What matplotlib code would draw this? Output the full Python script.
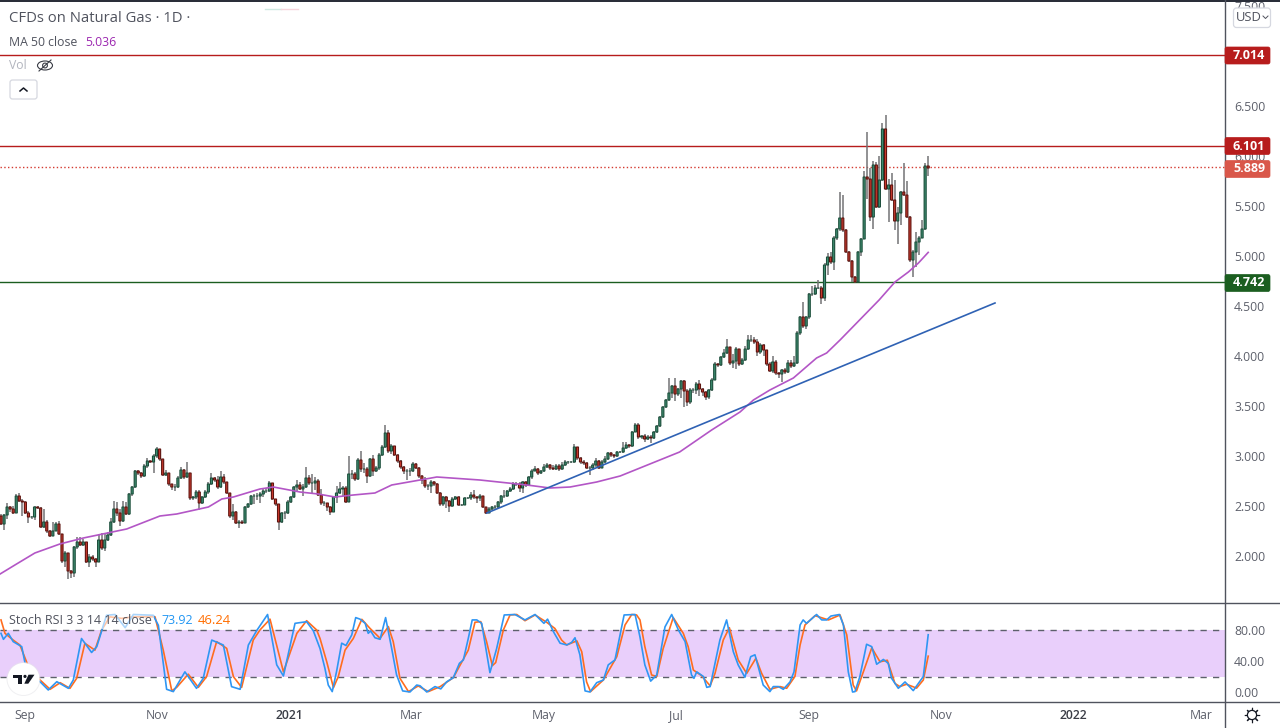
#!/usr/bin/env python3

import numpy as np
import matplotlib
matplotlib.use('Agg')
import matplotlib.pyplot as plt
from matplotlib.patches import Circle, Ellipse, FancyBboxPatch, Polygon, Rectangle

plt.rcParams['font.family'] = ['Open Sans', 'DejaVu Sans']

closes = [
    2.32, 2.41, 2.49, 2.47, 2.43, 2.60, 2.55, 2.54, 2.43, 2.39,
    2.39, 2.49, 2.48, 2.29, 2.34, 2.25, 2.20, 2.25, 2.32, 2.22,
    1.95, 2.03, 1.85, 1.83, 2.09, 2.14, 2.11, 2.14, 1.94, 1.99,
    1.97, 1.94, 2.16, 2.08, 2.16, 2.21, 2.34, 2.47, 2.43, 2.35,
    2.49, 2.42, 2.62, 2.69, 2.85, 2.83, 2.80, 2.90, 2.95, 2.94,
    3.00, 3.07, 2.97, 2.81, 2.83, 2.72, 2.69, 2.69, 2.78, 2.86,
    2.79, 2.83, 2.58, 2.59, 2.64, 2.53, 2.59, 2.64, 2.72, 2.78,
    2.76, 2.69, 2.79, 2.74, 2.63, 2.40, 2.44, 2.33, 2.34, 2.33,
    2.49, 2.52, 2.60, 2.60, 2.60, 2.62, 2.65, 2.65, 2.73, 2.57,
    2.52, 2.34, 2.43, 2.43, 2.54, 2.59, 2.69, 2.71, 2.67, 2.69,
    2.78, 2.73, 2.73, 2.75, 2.61, 2.53, 2.53, 2.49, 2.44, 2.59,
    2.63, 2.67, 2.68, 2.54, 2.82, 2.82, 2.77, 2.96, 2.87, 2.87,
    2.80, 2.97, 2.85, 2.88, 3.01, 3.09, 3.23, 3.05, 3.10, 3.01,
    2.95, 2.89, 2.85, 2.85, 2.85, 2.92, 2.88, 2.80, 2.76, 2.70,
    2.70, 2.74, 2.72, 2.63, 2.52, 2.59, 2.55, 2.50, 2.57, 2.59,
    2.51, 2.51, 2.58, 2.58, 2.61, 2.59, 2.58, 2.60, 2.49, 2.43,
    2.47, 2.49, 2.49, 2.54, 2.60, 2.60, 2.65, 2.67, 2.72, 2.72,
    2.68, 2.74, 2.71, 2.79, 2.85, 2.87, 2.83, 2.85, 2.89, 2.91,
    2.88, 2.87, 2.90, 2.87, 2.91, 2.94, 2.94, 2.94, 3.09, 2.98,
    2.94, 2.93, 2.88, 2.88, 2.91, 2.95, 2.88, 2.94, 2.97, 3.03,
    3.01, 3.00, 3.04, 3.04, 3.08, 3.11, 3.10, 3.24, 3.31, 3.19,
    3.20, 3.17, 3.19, 3.18, 3.24, 3.30, 3.39, 3.49, 3.56, 3.63,
    3.70, 3.62, 3.67, 3.75, 3.65, 3.54, 3.66, 3.66, 3.72, 3.67,
    3.64, 3.59, 3.66, 3.76, 3.92, 3.91, 3.99, 4.03, 4.09, 3.93,
    3.95, 4.07, 3.92, 3.96, 4.07, 4.16, 4.16, 4.14, 4.04, 4.11,
    4.06, 3.92, 3.85, 3.94, 3.83, 3.82, 3.86, 3.84, 3.93, 3.90,
    3.93, 4.23, 4.39, 4.30, 4.39, 4.62, 4.62, 4.68, 4.68, 4.58,
    4.91, 4.99, 4.94, 5.18, 5.27, 5.38, 5.26, 5.04, 4.95, 4.79,
    4.74, 5.04, 5.17, 5.79, 5.77, 5.39, 5.91, 5.49, 5.76, 6.27,
    5.67, 5.71, 5.56, 5.35, 5.43, 5.64, 5.61, 5.39, 4.96, 5.04,
    5.14, 5.18, 5.27, 5.90, 5.88,
]
highs = [
    2.42, 2.42, 2.53, 2.50, 2.50, 2.62, 2.63, 2.57, 2.55, 2.45,
    2.40, 2.50, 2.50, 2.49, 2.47, 2.36, 2.26, 2.34, 2.34, 2.35,
    2.22, 2.05, 2.03, 1.86, 2.10, 2.19, 2.19, 2.17, 2.14, 2.02,
    2.01, 1.98, 2.22, 2.23, 2.23, 2.24, 2.38, 2.55, 2.54, 2.47,
    2.55, 2.54, 2.63, 2.70, 2.86, 2.86, 2.84, 2.92, 2.98, 2.96,
    3.02, 3.09, 3.07, 2.97, 2.86, 2.83, 2.72, 2.72, 2.80, 2.89,
    2.87, 2.94, 2.83, 2.60, 2.66, 2.66, 2.60, 2.66, 2.74, 2.83,
    2.79, 2.80, 2.85, 2.82, 2.74, 2.63, 2.52, 2.45, 2.36, 2.36,
    2.50, 2.53, 2.61, 2.62, 2.63, 2.64, 2.67, 2.68, 2.75, 2.73,
    2.57, 2.52, 2.44, 2.45, 2.56, 2.60, 2.70, 2.76, 2.74, 2.72,
    2.89, 2.81, 2.82, 2.79, 2.77, 2.67, 2.55, 2.53, 2.50, 2.60,
    2.70, 2.74, 2.70, 2.70, 3.00, 2.86, 2.84, 2.98, 3.05, 2.93,
    2.89, 2.98, 3.01, 2.90, 3.03, 3.11, 3.31, 3.26, 3.12, 3.10,
    3.02, 2.96, 2.90, 2.87, 2.88, 2.94, 2.93, 2.89, 2.81, 2.79,
    2.72, 2.76, 2.75, 2.73, 2.64, 2.60, 2.60, 2.56, 2.59, 2.60,
    2.60, 2.52, 2.59, 2.59, 2.64, 2.66, 2.60, 2.62, 2.60, 2.49,
    2.49, 2.50, 2.51, 2.55, 2.61, 2.66, 2.66, 2.69, 2.74, 2.74,
    2.74, 2.75, 2.75, 2.80, 2.87, 2.90, 2.88, 2.86, 2.92, 2.93,
    2.92, 2.91, 2.92, 2.92, 2.94, 2.96, 2.95, 2.95, 3.12, 3.09,
    2.99, 2.96, 2.94, 2.90, 2.93, 2.98, 2.96, 2.96, 3.00, 3.04,
    3.04, 3.02, 3.05, 3.05, 3.14, 3.14, 3.12, 3.25, 3.33, 3.33,
    3.21, 3.22, 3.21, 3.21, 3.25, 3.31, 3.40, 3.50, 3.57, 3.78,
    3.71, 3.78, 3.68, 3.76, 3.76, 3.67, 3.68, 3.68, 3.74, 3.76,
    3.68, 3.65, 3.67, 3.78, 3.94, 3.93, 4.00, 4.07, 4.17, 4.09,
    4.02, 4.09, 4.07, 3.98, 4.10, 4.21, 4.21, 4.19, 4.17, 4.13,
    4.12, 4.06, 3.94, 4.00, 3.96, 3.84, 3.87, 3.88, 3.96, 3.96,
    4.00, 4.25, 4.40, 4.54, 4.40, 4.63, 4.70, 4.71, 4.76, 4.70,
    4.93, 5.03, 5.04, 5.20, 5.28, 5.64, 5.61, 5.27, 5.05, 4.96,
    4.80, 5.05, 5.18, 5.85, 6.24, 5.88, 5.95, 5.94, 6.00, 6.33,
    6.41, 5.77, 5.83, 5.76, 5.49, 5.65, 5.93, 5.75, 5.40, 5.06,
    5.24, 5.20, 5.36, 5.93, 6.00,
]
lows = [
    2.31, 2.26, 2.37, 2.44, 2.42, 2.43, 2.54, 2.40, 2.42, 2.33,
    2.37, 2.36, 2.47, 2.28, 2.28, 2.23, 2.19, 2.20, 2.25, 2.21,
    1.93, 1.89, 1.77, 1.78, 1.79, 2.07, 2.10, 2.10, 1.93, 1.89,
    1.95, 1.89, 1.94, 2.06, 2.05, 2.15, 2.20, 2.33, 2.40, 2.30,
    2.34, 2.41, 2.41, 2.60, 2.68, 2.81, 2.78, 2.79, 2.88, 2.93,
    2.83, 2.98, 2.95, 2.80, 2.80, 2.70, 2.66, 2.65, 2.68, 2.77,
    2.77, 2.78, 2.56, 2.56, 2.57, 2.46, 2.52, 2.58, 2.62, 2.71,
    2.74, 2.67, 2.68, 2.72, 2.62, 2.38, 2.36, 2.32, 2.28, 2.32,
    2.33, 2.48, 2.51, 2.52, 2.56, 2.53, 2.59, 2.63, 2.64, 2.56,
    2.50, 2.26, 2.33, 2.37, 2.42, 2.53, 2.58, 2.65, 2.66, 2.60,
    2.68, 2.71, 2.62, 2.66, 2.60, 2.51, 2.50, 2.45, 2.41, 2.44,
    2.53, 2.62, 2.60, 2.53, 2.54, 2.77, 2.75, 2.76, 2.84, 2.83,
    2.73, 2.79, 2.80, 2.84, 2.86, 3.00, 3.08, 3.03, 3.02, 3.00,
    2.93, 2.87, 2.82, 2.76, 2.80, 2.84, 2.87, 2.78, 2.72, 2.68,
    2.66, 2.63, 2.70, 2.62, 2.50, 2.50, 2.48, 2.44, 2.49, 2.56,
    2.50, 2.50, 2.51, 2.57, 2.56, 2.57, 2.53, 2.55, 2.48, 2.42,
    2.43, 2.46, 2.47, 2.47, 2.52, 2.58, 2.59, 2.64, 2.66, 2.70,
    2.64, 2.63, 2.69, 2.70, 2.77, 2.85, 2.81, 2.82, 2.84, 2.88,
    2.86, 2.86, 2.86, 2.85, 2.86, 2.90, 2.92, 2.93, 2.93, 2.96,
    2.92, 2.91, 2.87, 2.81, 2.86, 2.89, 2.87, 2.88, 2.93, 2.96,
    2.99, 2.98, 2.99, 3.03, 3.03, 3.07, 3.08, 3.09, 3.24, 3.17,
    3.17, 3.14, 3.16, 3.13, 3.17, 3.23, 3.29, 3.38, 3.48, 3.55,
    3.58, 3.55, 3.60, 3.58, 3.49, 3.50, 3.52, 3.63, 3.62, 3.60,
    3.60, 3.56, 3.57, 3.65, 3.76, 3.89, 3.90, 3.98, 4.02, 3.91,
    3.88, 3.87, 3.90, 3.91, 3.95, 4.06, 4.14, 4.12, 4.00, 4.02,
    4.00, 3.90, 3.84, 3.83, 3.81, 3.78, 3.74, 3.82, 3.83, 3.88,
    3.89, 3.92, 4.21, 4.28, 4.27, 4.37, 4.60, 4.61, 4.67, 4.52,
    4.55, 4.81, 4.92, 4.86, 5.16, 5.25, 5.24, 5.03, 4.94, 4.74,
    4.73, 4.74, 5.00, 5.17, 5.57, 5.35, 5.27, 5.48, 5.48, 5.75,
    5.66, 5.34, 5.55, 5.26, 5.12, 5.31, 5.60, 5.38, 4.94, 4.79,
    4.89, 5.01, 5.18, 5.26, 5.80,
]
first_open = 2.40

# moving average, read at its bends
ma_bars = [-0.3, 5.1, 11.1, 19.3, 27, 41.2, 52.1, 57.6, 68, 72.4, 76.2, 84.9, 89.3, 98, 104,
           109.5, 115.5, 122.6, 128.1, 137.4, 142.9, 157, 172.4, 180, 186.6, 195.3, 203, 209.5,
           222.5, 233, 242.3, 246.7, 252.1, 259.8, 267.4, 270.7, 275.1, 287.9, 293.1, 297.5, 300.8, 304]
ma_vals = [1.82, 1.92, 2.03, 2.12, 2.18, 2.27, 2.40, 2.42, 2.49, 2.57, 2.59, 2.67, 2.69, 2.64, 2.62,
           2.59, 2.61, 2.63, 2.71, 2.76, 2.79, 2.76, 2.71, 2.68, 2.69, 2.74, 2.80, 2.88,
           3.04, 3.26, 3.44, 3.56, 3.66, 3.78, 3.98, 4.03, 4.16, 4.56, 4.74, 4.84, 4.93, 5.036]

trend_bars = [159.3, 325.9]
trend_vals = [2.43, 4.53]

k_bars = [0, 0.8, 2.4, 4, 6.8, 7.9, 9.5, 12.8, 15.5, 18.3, 22.1, 23.7, 26.4, 29.7, 31.4, 34.6, 37.4, 40.7,
          43.4, 49.9, 51.6, 54.3, 56.5, 60.3, 64.1, 66.3, 69.1, 72.9, 75.6, 78.4, 81.1, 83.8, 87.4, 90.4,
          92.6, 96.4, 100.2, 102.4, 104.6, 106.2, 107.3, 108.6, 110, 111.7, 113.1, 115, 116.3, 117.7, 119.4,
          120.4, 121.2, 122.6, 124.3, 126.1, 128.1, 129.7, 131.7, 134.1, 136.3, 137.4, 139.6, 142.3, 144.2,
          146.1, 148.3, 150.3, 151.6, 153.2, 154.5, 156, 157.6, 160.3, 162.5, 165, 168.5, 171.8, 175.1, 178,
          179.2, 181.1, 183.3, 185.5, 187.1, 188.2, 189.8, 191.5, 193.1, 195.3, 197.5, 199.1, 201.3, 204.3,
          207.9, 209.5, 211.1, 213, 215, 217.7, 219.9, 222.1, 224.3, 226.4, 227.2, 228.1, 230.3, 231.4, 232.5,
          235.7, 237.9, 240.1, 241.7, 243.9, 245.8, 247.2, 249.9, 252.1, 253.2, 254.9, 256.5, 258.7, 260, 262,
          263, 264.1, 267.4, 269.1, 270.7, 272.1, 274.9, 276.2, 277.8, 279.2, 280, 281.6, 283.8, 285.5, 287.1,
          289.3, 290.9, 292, 294.2, 296.4, 299.1, 302.4, 304]
k_vals = [75.7, 68, 75.7, 65, 58.5, 37, 22, 13.3, 2.6, 13.3, 4.7, 15.5, 69, 51, 58.5, 99, 100, 83,
          100, 99, 86, 3.5, 0.5, 26, 4.7, 17.6, 67, 60.6, 6.9, 3.5, 60.6, 79, 100, 35,
          20.7, 88.6, 90.7, 79, 56, 30.6, 9, 0.5, 26, 63, 60, 73.6, 96, 94, 88.6,
          75.7, 78.8, 70, 68, 96, 56, 22, 1.4, 0, 9, 8, 0, 7, 4,
          13, 18.5, 37, 41.4, 69, 93, 93, 88.6, 25, 56, 99.4, 100, 93, 100, 88.6,
          94, 78, 63, 60.7, 64, 70, 48, 1.4, 0, 12, 15.5, 35, 41.4, 99.4,
          100, 71, 35, 14, 22, 84, 100, 80, 65, 22, 17.7, 26, 20, 6, 7,
          67, 93, 52, 35, 19, 45.6, 48, 9, 0.5, 7, 7, 3.5, 13, 26, 86.5,
          93, 88.6, 100, 93, 93, 98, 100, 86.5, 26, 0, 0.5, 20, 61.6, 58.5, 35.8,
          42, 37, 17.7, 4.8, 13, 1.8, 20, 73.92]

d_bars = [0, 1.3, 4, 6.2, 9, 12.8, 16.1, 19.4, 22.6, 24.8, 27.5, 30.8, 33, 35.7, 39.6, 43.4, 50.5, 53.2, 56,
          57.6, 61.4, 64.7, 67.4, 70.7, 74, 76.2, 78.9, 82.7, 84.9, 88.2, 92.6, 97, 100.2, 103.5,
          104.6, 106.8, 109, 110.6, 112.8, 115.5, 118.3, 121, 124.3, 127, 128.6, 130.8, 133.6, 136.8, 140.1,
          144, 148.3, 153.2, 155.4, 157.3, 159.2, 161.1, 162.2, 164.7, 166.9, 169.1, 171.8, 175.1, 178.9,
          181.6, 183.8, 185.5, 188.8, 190.4, 192, 193.3, 197.5, 201.9, 204.6, 206.8, 208.4, 209.5,
          211.1, 213.3, 215, 217.1, 220.4, 223.7, 225.3, 227, 229.7, 232.5, 234.1, 236.8, 238.8, 241.7, 244.5,
          247.5, 249.4, 252.1, 255.4, 257.6, 260.3, 262, 263.6, 266.9, 271.3, 275.1, 277.3, 279.4, 280.5,
          282.2, 285.5, 288.2, 290.6, 293.1, 294.7, 296.9, 300.2, 302.4, 304]
d_vals = [93, 75.7, 67, 60.6, 32.7, 15.5, 3.5, 12, 4.7, 17.6, 62.8, 54, 80, 97, 95, 97, 97, 54, 1.5,
          6, 23, 6, 19.8, 65, 56.3, 19.8, 6, 67, 80, 94, 26, 75.7, 92, 80,
          69, 39, 5.6, 20, 54, 69, 93.8, 82, 69.3, 84.4, 65, 17.7, 0.5, 7.8, 0.5,
          7, 18.5, 54, 90, 90.8, 65, 34, 38, 80, 99.4, 100, 92, 99.4, 90,
          82, 67, 60.7, 66, 52, 13, 0.5, 15.5, 45.6, 86.5, 100, 99.4, 93,
          58.5, 22, 20, 56, 96, 75.7, 58.5, 28.4, 21, 8, 24, 67, 83, 41.4, 24,
          43.5, 24, 3.5, 7, 4.8, 20, 60.7, 86.5, 98.5, 93, 99.4, 73.6, 9, 1.4,
          20, 57, 39, 41, 11, 7, 10, 5, 15.5, 46.24]

price_ticks = [2.0, 2.5, 3.0, 3.5, 4.0, 4.5, 5.0, 5.5, 6.0, 6.5, 7.5]
stoch_ticks = [0, 40, 80]
month_bars = [7.9, 51.1, 94.4, 134.4, 178, 221.3, 264.9, 308.2, 351.5, 393.5]
month_labels = ['Sep', 'Nov', '2021', 'Mar', 'May', 'Jul', 'Sep', 'Nov', '2022', 'Mar']

levels = [7.014, 6.101, 4.742]
level_colors = ['#b71c1c', '#b71c1c', '#1b5e20']
last_close = 5.889

W, H = 1280, 728
BAR_PX = 3.05
UP, UP_EDGE = '#3f8f72', '#1d4f3c'
DOWN, DOWN_EDGE = '#cc3a2e', '#5f1510'
WICK = '#737375'
AXIS = '#50535e'
GREY = '#5d606b'

closes = np.array(closes)
opens = np.r_[first_open, closes[:-1]]
bars = np.arange(len(closes))

fig = plt.figure(figsize=(W / 100, H / 100), dpi=100)
xlim = (-1 / BAR_PX, (1224.5 - 1) / BAR_PX)

# price pane
ax = fig.add_axes([0, 1 - 603 / H, 1224.5 / W, 601 / H])
ax.set_xlim(xlim)
ax.set_ylim(6.5 - (603 - 106) / 100, 6.5 - (2 - 106) / 100)

for lvl, col in zip(levels, level_colors):
    ax.axhline(lvl, color=col, lw=1.0, zorder=1)
ax.axhline(last_close, color='#d43a30', lw=1.0, ls=(0, (1, 1.7)), zorder=1)

ax.vlines(bars, lows, highs, color=WICK, lw=1.1, zorder=2)
up = closes >= opens
for mask, col, edge, base, height in [
        (up, UP, UP_EDGE, opens, closes - opens),
        (~up, DOWN, DOWN_EDGE, closes, opens - closes)]:
    rects = ax.bar(bars[mask], height[mask], bottom=base[mask], width=0.68,
                   color=col, edgecolor=edge, lw=0.8, zorder=3)
    for r in rects:
        r.set_snap(False)

ax.plot(ma_bars, ma_vals, color='#b356c6', lw=1.2, zorder=4)
ax.plot(trend_bars, trend_vals, color='#2f62b4', lw=1.2, zorder=4)

ax.set_xticks([])
ax.yaxis.tick_right()
ax.set_yticks(price_ticks)
ax.set_yticklabels([f'{v:.3f}' for v in price_ticks])
ax.tick_params(axis='y', length=0, pad=7, labelsize=8.8, labelcolor=GREY)
for s in ax.spines.values():
    s.set_visible(False)

# stochastic pane
ax2 = fig.add_axes([0, 1 - 701 / H, 1224.5 / W, 98 / H])
ax2.set_xlim(xlim)
ax2.set_ylim((692 - 701) / 0.775, (692 - 603) / 0.775)
ax2.axhspan(20, 80, color='#e9cffb', lw=0, zorder=1)
for lvl in (20, 80):
    ax2.axhline(lvl, color=GREY, lw=1.0, ls=(0, (4.5, 4.5)), zorder=2)
ax2.plot(d_bars, d_vals, color='#ff6d1f', lw=1.2, zorder=3)
ax2.plot(k_bars, k_vals, color='#2f96f3', lw=1.2, zorder=4)
ax2.yaxis.tick_right()
ax2.set_yticks(stoch_ticks)
ax2.set_yticklabels([f'{v:.2f}' for v in stoch_ticks])
ax2.tick_params(axis='y', length=0, pad=7, labelsize=8.8, labelcolor=GREY)
ax2.set_xticks(month_bars)
ax2.set_xticklabels(month_labels)
ax2.tick_params(axis='x', length=0, pad=6, labelsize=8.8, labelcolor=GREY)
for lab, txt in zip(ax2.get_xticklabels(), month_labels):
    if txt.startswith('20'):
        lab.set_color('#3a3d46')
        lab.set_fontweight('semibold')
for s in ax2.spines.values():
    s.set_visible(False)

# chrome on top, in pixels
ov = fig.add_axes([0, 0, 1, 1], zorder=10)
ov.set_xlim(0, W)
ov.set_ylim(H, 0)
ov.axis('off')
ov.patch.set_alpha(0)

ov.add_patch(Rectangle((0, 0), W, 2, color='#2a2e39', lw=0))
ov.plot([0, W], [603, 603], color=AXIS, lw=1.0)
ov.plot([0, W], [701.5, 701.5], color=AXIS, lw=1.0)
ov.plot([1224.5, 1224.5], [0, H], color=AXIS, lw=1.0)
ov.plot([265, 281], [8.5, 8.5], color='#cfe9e2', lw=1.0)
ov.plot([281, 298], [8.5, 8.5], color='#f6d5dc', lw=1.0)


def tag(y, txt, col):
    ov.add_patch(FancyBboxPatch((1225, y - 8.5), 45, 17, boxstyle='round,pad=0,rounding_size=2',
                                fc=col, ec=col, lw=0.5, zorder=5))
    ov.text(1249, y, txt, color='white', fontsize=9.0, fontweight='bold',
            ha='center', va='center', zorder=6)


tag(55.5, '7.014', '#b71c1c')
tag(146, '6.101', '#b71c1c')
tag(169, '5.889', '#d9574a')
tag(283, '4.742', '#1b5e20')

# currency box
ov.add_patch(FancyBboxPatch((1233.5, 8), 37, 19.5, boxstyle='round,pad=0,rounding_size=3',
                            fc='white', ec='#d6d8e0', lw=0.9, zorder=5))
ov.text(1249, 17.5, 'USD', color='#50535e', fontsize=9.4, ha='center', va='center', zorder=6)
ov.plot([1263, 1265.5, 1268], [16, 18.5, 16], color='#50535e', lw=0.7, zorder=6)

# legends
ov.text(9, 18.5, 'CFDs on Natural Gas · 1D ·', color='#50535e', fontsize=10.7, va='center')
ov.text(9, 42, 'MA 50 close', color='#50535e', fontsize=8.8, va='center')
ov.text(85, 42, '5.036', color='#9c27b0', fontsize=8.8, va='center')
ov.text(9, 65.5, 'Vol', color='#b2b5be', fontsize=8.8, va='center')
ov.add_patch(Ellipse((45, 65.5), 15, 9, fc='none', ec='#3a3d46', lw=0.8))
ov.add_patch(Circle((45, 65.5), 2.4, fc='none', ec='#3a3d46', lw=0.8))
ov.plot([39, 51], [71, 60], color='#3a3d46', lw=0.8)
ov.add_patch(FancyBboxPatch((10, 80), 27, 19, boxstyle='round,pad=0,rounding_size=2.5',
                            fc='white', ec='#d6d8e0', lw=0.9))
ov.plot([20, 23.5, 27], [91, 88, 91], color='#131722', lw=1.1)

ov.text(9, 620.5, 'Stoch RSI 3 3 14 14 close', color='#50535e', fontsize=9.0, va='center',
        bbox=dict(fc='white', ec='none', alpha=0.6, pad=1.2))
ov.text(161, 620.5, '73.92', color='#2196f3', fontsize=9.0, va='center')
ov.text(198, 620.5, '46.24', color='#ff6d00', fontsize=9.4, va='center')

# logo
ov.add_patch(Circle((23.5, 679), 17, fc='#e6e6ea', ec='none', alpha=0.6))
ov.add_patch(Circle((23.5, 679), 16, fc='white', ec='none'))
ov.add_patch(Rectangle((13, 674.7), 9, 2.9, color='#131722', lw=0))
ov.add_patch(Rectangle((17.5, 674.7), 4.5, 9, color='#131722', lw=0))
ov.add_patch(Circle((25, 676.4), 1.6, color='#131722', lw=0))
ov.add_patch(Polygon([(28.5, 674.7), (34.5, 674.7), (28.3, 683.7), (24.3, 683.7)], color='#131722', lw=0))

# settings gear
ov.plot([1252], [715], marker=(8, 2, 0), ms=11, color='#131722', mew=0.8)
ov.add_patch(Circle((1252, 715), 4.6, fc='white', ec='#131722', lw=0.9, zorder=5))

fig.savefig('out.png', dpi=100, facecolor='white')
